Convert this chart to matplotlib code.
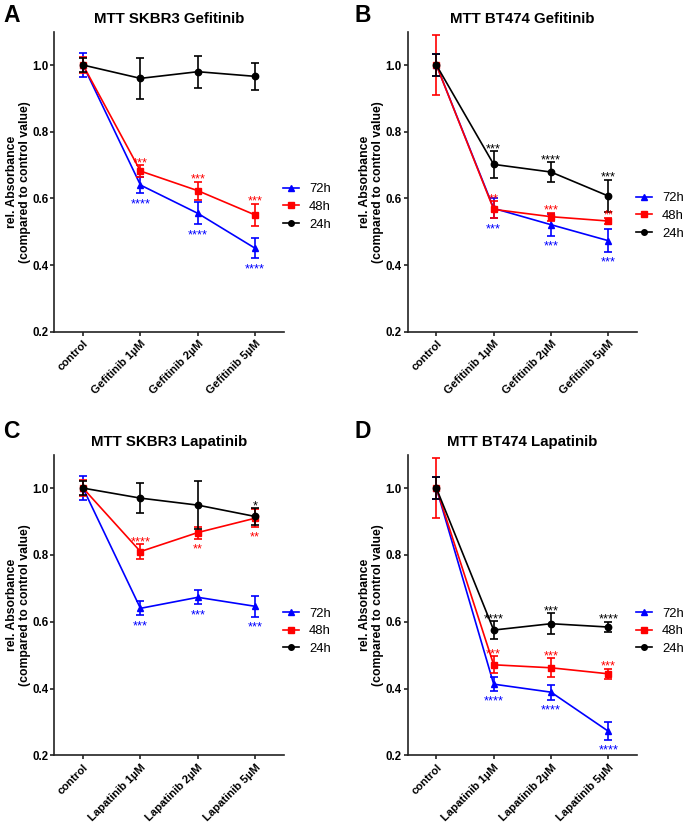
import matplotlib
matplotlib.use('Agg')
import matplotlib.pyplot as plt
from matplotlib.lines import Line2D

plt.rcParams['font.family'] = ['Liberation Sans', 'DejaVu Sans']

# ---------------- data ----------------
series_names = ['72h', '48h', '24h']

gef_labels = ['control', 'Gefitinib 1µM', 'Gefitinib 2µM', 'Gefitinib 5µM']
lap_labels = ['control', 'Lapatinib 1µM', 'Lapatinib 2µM', 'Lapatinib 5µM']

# Panel A: MTT SKBR3 Gefitinib
A_mean_72 = [1.0, 0.640, 0.555, 0.450]
A_err_72 = [0.037, 0.025, 0.033, 0.030]
A_mean_48 = [1.0, 0.682, 0.623, 0.550]
A_err_48 = [0.025, 0.017, 0.027, 0.034]
A_mean_24 = [1.0, 0.960, 0.980, 0.966]
A_err_24 = [0.020, 0.061, 0.048, 0.040]
A_stars_72 = ['', '****', '****', '****']
A_side_72 = [0, -1, -1, -1]
A_stars_48 = ['', '***', '***', '***']
A_side_48 = [0, 1, 1, 1]
A_stars_24 = ['', '', '', '']
A_side_24 = [0, 0, 0, 0]

# Panel B: MTT BT474 Gefitinib
B_mean_72 = [1.0, 0.570, 0.521, 0.473]
B_err_72 = [0.034, 0.030, 0.033, 0.034]
B_mean_48 = [1.0, 0.567, 0.545, 0.532]
B_err_48 = [0.091, 0.025, 0.012, 0.010]
B_mean_24 = [1.0, 0.702, 0.679, 0.607]
B_err_24 = [0.034, 0.040, 0.029, 0.049]
B_stars_72 = ['', '***', '***', '***']
B_side_72 = [0, -1, -1, -1]
B_stars_48 = ['', '**', '***', '**']
B_side_48 = [0, 1, 1, 1]
B_stars_24 = ['', '***', '****', '***']
B_side_24 = [0, 1, 1, 1]

# Panel C: MTT SKBR3 Lapatinib
C_mean_72 = [1.0, 0.640, 0.673, 0.646]
C_err_72 = [0.037, 0.021, 0.021, 0.032]
C_mean_48 = [1.0, 0.810, 0.867, 0.910]
C_err_48 = [0.025, 0.022, 0.018, 0.027]
C_mean_24 = [1.0, 0.970, 0.949, 0.915]
C_err_24 = [0.020, 0.045, 0.071, 0.025]
C_stars_72 = ['', '***', '***', '***']
C_side_72 = [0, -1, -1, -1]
C_stars_48 = ['', '****', '**', '**']
C_side_48 = [0, 1, -1, -1]
C_stars_24 = ['', '', '', '*']
C_side_24 = [0, 0, 0, 1]

# Panel D: MTT BT474 Lapatinib
D_mean_72 = [1.0, 0.413, 0.389, 0.272]
D_err_72 = [0.034, 0.020, 0.022, 0.027]
D_mean_48 = [1.0, 0.471, 0.462, 0.444]
D_err_48 = [0.091, 0.026, 0.029, 0.015]
D_mean_24 = [1.0, 0.575, 0.594, 0.584]
D_err_24 = [0.034, 0.026, 0.032, 0.016]
D_stars_72 = ['', '****', '****', '****']
D_side_72 = [0, -1, -1, -1]
D_stars_48 = ['', '***', '***', '***']
D_side_48 = [0, 1, 1, 1]
D_stars_24 = ['', '****', '***', '****']
D_side_24 = [0, 1, 1, 1]

# ---------------- styling ----------------
colors = {'72h': '#0000FF', '48h': '#FF0000', '24h': '#000000'}
markers = {'72h': '^', '48h': 's', '24h': 'o'}
msizes = {'72h': 5.0, '48h': 4.6, '24h': 4.6}
zorders = {'72h': 3, '48h': 4, '24h': 5}

W, H = 685, 824
fig = plt.figure(figsize=(W / 100, H / 100), dpi=100)


def px_axes(left, right, top, bottom):
    return [left / W, 1 - bottom / H, (right - left) / W, (bottom - top) / H]


panels = [
    dict(letter='A', title='MTT SKBR3 Gefitinib', labels=gef_labels,
         rect=px_axes(54.3, 284.0, 31.7, 331.7), leg_y=0.416,
         letter_xy=(3, 21.5),
         data={'72h': (A_mean_72, A_err_72, A_stars_72, A_side_72),
               '48h': (A_mean_48, A_err_48, A_stars_48, A_side_48),
               '24h': (A_mean_24, A_err_24, A_stars_24, A_side_24)}),
    dict(letter='B', title='MTT BT474 Gefitinib', labels=gef_labels,
         rect=px_axes(407.7, 637.0, 31.7, 331.7), leg_y=0.386,
         letter_xy=(354, 21.5),
         data={'72h': (B_mean_72, B_err_72, B_stars_72, B_side_72),
               '48h': (B_mean_48, B_err_48, B_stars_48, B_side_48),
               '24h': (B_mean_24, B_err_24, B_stars_24, B_side_24)}),
    dict(letter='C', title='MTT SKBR3 Lapatinib', labels=lap_labels,
         rect=px_axes(54.3, 284.0, 454.7, 755.3), leg_y=0.413,
         letter_xy=(3, 438.5),
         data={'72h': (C_mean_72, C_err_72, C_stars_72, C_side_72),
               '48h': (C_mean_48, C_err_48, C_stars_48, C_side_48),
               '24h': (C_mean_24, C_err_24, C_stars_24, C_side_24)}),
    dict(letter='D', title='MTT BT474 Lapatinib', labels=lap_labels,
         rect=px_axes(407.7, 637.0, 454.7, 755.3), leg_y=0.413,
         letter_xy=(354, 438.5),
         data={'72h': (D_mean_72, D_err_72, D_stars_72, D_side_72),
               '48h': (D_mean_48, D_err_48, D_stars_48, D_side_48),
               '24h': (D_mean_24, D_err_24, D_stars_24, D_side_24)}),
]

star_fs = 9.3

for p in panels:
    ax = fig.add_axes(p['rect'])
    x = list(range(len(p['labels'])))
    for name in series_names:
        mean, err, stars, side = p['data'][name]
        c = colors[name]
        ax.errorbar(x, mean, yerr=err, color=c, marker=markers[name],
                    markersize=msizes[name], linewidth=1.2, elinewidth=1.2,
                    capsize=2.6, capthick=1.2, zorder=zorders[name])
        for xi, m, e, s, sd in zip(x, mean, err, stars, side):
            if not s:
                continue
            if sd > 0:
                yref = m + e
                off = 4.5
            else:
                yref = m - e
                off = -4.5
            # asterisk ink centre sits about 0.57 em above baseline
            ax.annotate(s, xy=(xi, yref), xytext=(0, off - 0.57 * star_fs),
                        textcoords='offset points', ha='center', va='baseline',
                        fontsize=star_fs, color=c, zorder=6)
    ax.set_xlim(-0.5, 3.5)
    ax.set_ylim(0.2, 1.1)
    ax.set_yticks([0.2, 0.4, 0.6, 0.8, 1.0])
    ax.set_yticklabels(['0.2', '0.4', '0.6', '0.8', '1.0'])
    ax.set_xticks(x)
    ax.set_xticklabels(p['labels'], rotation=45, ha='right', va='top',
                       rotation_mode='anchor')
    for lab in ax.get_yticklabels():
        lab.set_fontweight('bold')
        lab.set_fontsize(8.3)
    for lab in ax.get_xticklabels():
        lab.set_fontweight('bold')
        lab.set_fontsize(8.1)
    ax.tick_params(axis='both', direction='out', length=3.0, width=1.2,
                   color='#222222')
    ax.tick_params(axis='y', pad=1.3)
    ax.tick_params(axis='x', pad=1.8)
    for sp in ['top', 'right']:
        ax.spines[sp].set_visible(False)
    for sp in ['left', 'bottom']:
        ax.spines[sp].set_linewidth(1.2)
        ax.spines[sp].set_color('#222222')
    ax.set_ylabel('rel. Absorbance\n(compared to control value)',
                  fontsize=8.8, fontweight='bold', labelpad=1.0,
                  linespacing=1.12)
    ax.set_title(p['title'], fontsize=10.8, fontweight='bold', pad=6.5)

    handles = [Line2D([0], [0], color=colors[n], marker=markers[n],
                      markersize=msizes[n] - 0.6, linewidth=1.2)
               for n in series_names]
    ax.legend(handles, series_names, loc='center left',
              bbox_to_anchor=(0.995, p['leg_y']), frameon=False,
              fontsize=9.4, handlelength=1.25, handletextpad=0.75,
              labelspacing=0.42, borderaxespad=0, borderpad=0)

    fx, fy = p['letter_xy']
    fig.text(fx / W, 1 - fy / H, p['letter'], fontsize=16.5,
             fontweight='bold', ha='left', va='baseline')

fig.savefig('out.png', dpi=100)
